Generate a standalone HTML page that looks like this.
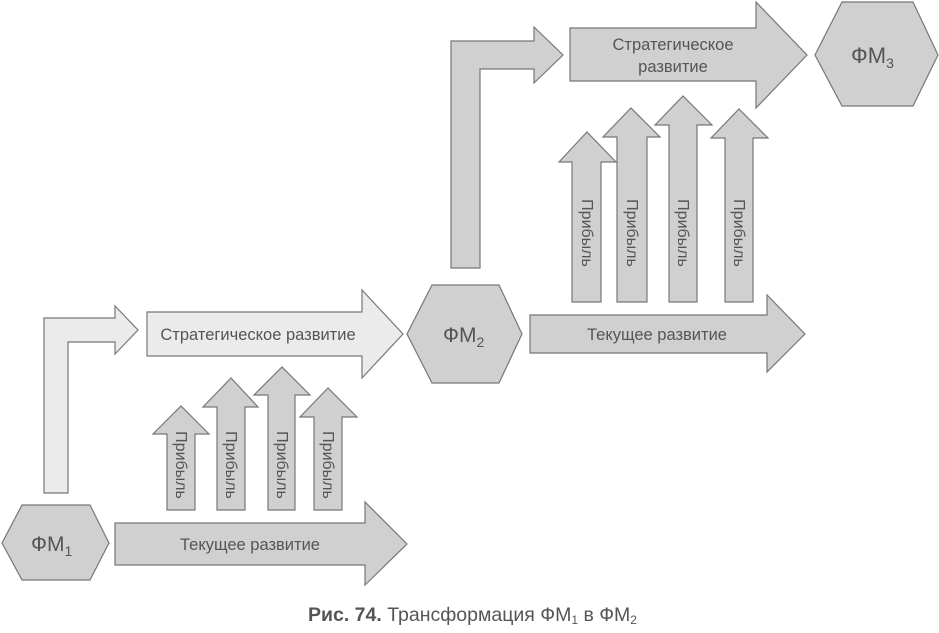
<!DOCTYPE html>
<html><head><meta charset="utf-8"><style>
html,body{margin:0;padding:0;background:#fff;}
svg{display:block;}
text{font-family:"Liberation Sans","DejaVu Sans",sans-serif;fill:#555;}
</style></head><body>
<svg width="939" height="633" viewBox="0 0 939 633" xmlns="http://www.w3.org/2000/svg">
<g stroke="#777" stroke-width="1.2" stroke-linejoin="miter">
<polygon fill="#ebebeb" points="44,493 44,318 115,318 115,306 138,330 115,354 115,342 68,342 68,493"/>
<polygon fill="#ebebeb" points="147,312 362,312 362,290 403,334 362,378 362,356 147,356"/>
<polygon fill="#d0d0d0" points="167,510 167,434 153,434 181,406 209,434 195,434 195,510"/>
<polygon fill="#d0d0d0" points="217,510 217,407 203,407 231,378 258,407 245,407 245,510"/>
<polygon fill="#d0d0d0" points="268,510 268,395 254,395 282,367 310,395 295,395 295,510"/>
<polygon fill="#d0d0d0" points="314,510 314,417 300,417 328,388 357,417 342,417 342,510"/>
<polygon fill="#d0d0d0" points="22,505 90,505 109,543 90,580 22,580 2,543"/>
<polygon fill="#d0d0d0" points="115,523 365,523 365,502 407,544 365,585 365,565 115,565"/>
<polygon fill="#d0d0d0" points="451,268 451,41 534,41 534,27 563,55 534,83 534,69 480,69 480,268"/>
<polygon fill="#d0d0d0" points="570,28 756,28 756,2 807,55 756,108 756,81 570,81"/>
<polygon fill="#d0d0d0" points="842,2 913,2 938,55 913,106 842,106 815,55"/>
<polygon fill="#d0d0d0" points="572,302 572,162 559,162 587,132 616,162 601,162 601,302"/>
<polygon fill="#d0d0d0" points="617,302 617,137 603,137 631,108 660,137 647,137 647,302"/>
<polygon fill="#d0d0d0" points="669,302 669,125 655,125 683,96 712,125 697,125 697,302"/>
<polygon fill="#d0d0d0" points="725,302 725,138 711,138 739,109 768,138 753,138 753,302"/>
<polygon fill="#d0d0d0" points="432,285 499,285 522,334 499,383 432,383 407,334"/>
<polygon fill="#d0d0d0" points="530,315 767,315 767,295 805,334 767,372 767,353 530,353"/>
</g>
<g font-size="16.5" text-anchor="middle">
<text x="258" y="340">Стратегическое развитие</text>
<text x="250" y="550">Текущее развитие</text>
<text x="657" y="340">Текущее развитие</text>
<text x="673" y="50">Стратегическое</text>
<text x="673" y="72">развитие</text>
</g>
<g font-size="16" text-anchor="middle">
<text transform="translate(181,465) rotate(90)" y="5">Прибыль</text>
<text transform="translate(231,465) rotate(90)" y="5">Прибыль</text>
<text transform="translate(282,465) rotate(90)" y="5">Прибыль</text>
<text transform="translate(328,465) rotate(90)" y="5">Прибыль</text>
<text transform="translate(587,233) rotate(90)" y="5">Прибыль</text>
<text transform="translate(632,233) rotate(90)" y="5">Прибыль</text>
<text transform="translate(683,233) rotate(90)" y="5">Прибыль</text>
<text transform="translate(739,233) rotate(90)" y="5">Прибыль</text>
</g>
<text x="31" y="551" font-size="21">ФМ<tspan font-size="14" dy="5">1</tspan></text>
<text x="443" y="342" font-size="21">ФМ<tspan font-size="14" dy="5">2</tspan></text>
<text x="851" y="63" font-size="22">ФМ<tspan font-size="14" dy="5">3</tspan></text>
<text x="308" y="621" font-size="19.5"><tspan font-weight="bold">Рис. 74.</tspan> Трансформация ФМ<tspan font-size="12" dy="3">1</tspan><tspan dy="-3"> в ФМ</tspan><tspan font-size="12" dy="3">2</tspan></text>
</svg>
</body></html>
